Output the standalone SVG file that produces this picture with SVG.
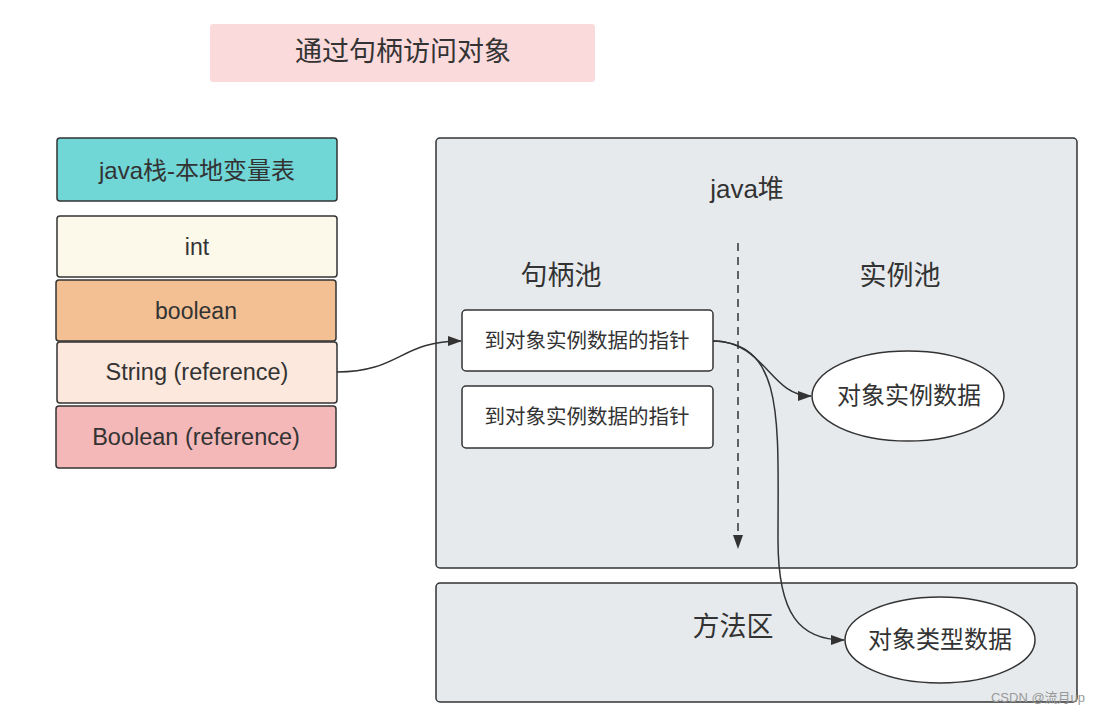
<svg xmlns="http://www.w3.org/2000/svg" width="1102" height="714" viewBox="0 0 1102 714">
<style>
text{font-family:"Liberation Sans","Noto Sans CJK SC",sans-serif;fill:#333;text-anchor:middle;dominant-baseline:central}
.b{stroke:#333;stroke-width:1.5}
.c{fill:none;stroke:#333;stroke-width:1.5}
</style>
<defs>
<marker id="ah" markerWidth="14" markerHeight="10" refX="13" refY="5" orient="auto" markerUnits="userSpaceOnUse">
<path d="M0,0 L14,5 L0,10 z" fill="#333"/>
</marker>
</defs>
<rect width="1102" height="714" fill="#fff"/>
<g id="title">
<rect x="210" y="24" width="385" height="58" rx="3" fill="#fbdadc"/>
<text x="403" y="52" font-size="27">通过句柄访问对象</text>
</g>
<g id="stack-header">
<rect class="b" x="57" y="138" width="280" height="63" rx="3" fill="#70d6d6"/>
<text x="197" y="170" font-size="24">java栈-本地变量表</text>
</g>
<g id="int">
<rect class="b" x="57" y="216" width="280" height="61" rx="3" fill="#fcf8ea"/>
<text x="197" y="247" font-size="23">int</text>
</g>
<g id="boolean">
<rect class="b" x="56" y="280" width="280" height="61" rx="3" fill="#f2c093"/>
<text x="196" y="311" font-size="23">boolean</text>
</g>
<g id="string">
<rect class="b" x="57" y="342" width="280" height="61" rx="3" fill="#fce8dc"/>
<text x="197" y="372" font-size="23.5">String (reference)</text>
</g>
<g id="boolean-ref">
<rect class="b" x="56" y="406" width="280" height="62" rx="3" fill="#f4b8b8"/>
<text x="196" y="437" font-size="23.5">Boolean (reference)</text>
</g>
<g id="heap">
<rect class="b" x="436" y="138" width="641" height="430" rx="4" fill="#e7eaed"/>
<text x="747" y="189" font-size="26">java堆</text>
<text x="561" y="276" font-size="27">句柄池</text>
<text x="900" y="276" font-size="27">实例池</text>
</g>
<g id="handle1">
<rect class="b" x="462" y="310" width="251" height="61" rx="4" fill="#fff"/>
<text x="587" y="340" font-size="20.5">到对象实例数据的指针</text>
</g>
<g id="handle2">
<rect class="b" x="462" y="386" width="251" height="62" rx="4" fill="#fff"/>
<text x="587" y="416" font-size="20.5">到对象实例数据的指针</text>
</g>
<g id="instance-data">
<ellipse class="b" cx="908" cy="396" rx="96" ry="45" fill="#fff"/>
<text x="909" y="395" font-size="24">对象实例数据</text>
</g>
<g id="method-area">
<rect class="b" x="436" y="583" width="641" height="119" rx="4" fill="#e7eaed"/>
<text x="733" y="627" font-size="27">方法区</text>
</g>
<g id="type-data">
<ellipse class="b" cx="940" cy="640" rx="95" ry="43" fill="#fff"/>
<text x="940" y="639" font-size="24">对象类型数据</text>
</g>
<g id="connectors">
<path class="c" d="M738,243 L738,548" stroke-dasharray="8,6" marker-end="url(#ah)"/>
<path class="c" d="M337,372 C400,372 400,341 461,341" marker-end="url(#ah)"/>
<path class="c" d="M713,341 C765,341 770,396 811,396" marker-end="url(#ah)"/>
<path class="c" d="M713,341 C785,343 778,420 778,540 C778,615 800,640 844,640" marker-end="url(#ah)"/>
</g>
<text x="1038" y="697" font-size="13" style="fill:#999">CSDN @流月up</text>
</svg>
